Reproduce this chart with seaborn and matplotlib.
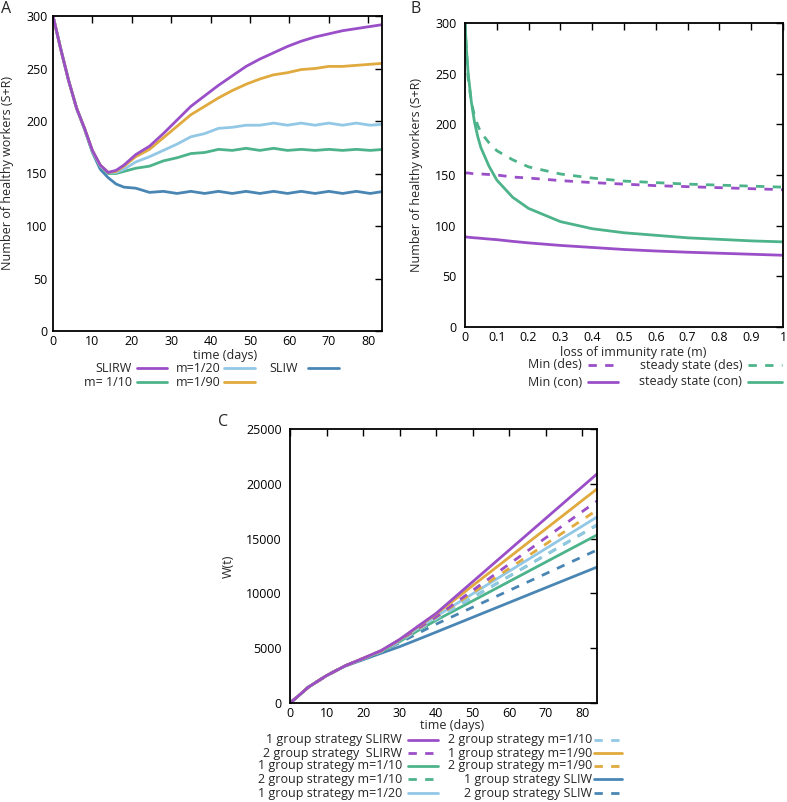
import numpy as np
import pandas as pd
import matplotlib
matplotlib.use("Agg")
import matplotlib.pyplot as plt
from matplotlib.lines import Line2D
import seaborn as sns

# ---- Panel A: healthy workers over time ----
days_a = [0, 2, 4, 6, 8, 10, 12, 14, 16, 18, 21, 24.5, 28, 31.5, 35, 38.5, 42,
          45.5, 49, 52.5, 56, 59.5, 63, 66.5, 70, 73.5, 77, 80.5, 84]
slirw_a = [300, 268, 238, 212, 193, 172, 158, 151, 153, 158, 168, 176, 188, 201, 214,
           224, 234, 243, 252, 259, 265, 271, 276, 280, 283, 286, 288, 290, 292]
m90_a = [300, 268, 238, 212, 193, 172, 158, 151, 152, 157, 166, 173, 184, 195, 206,
         214, 222, 229, 235, 240, 244, 246, 249, 250, 252, 252, 253, 254, 255]
m20_a = [300, 268, 238, 212, 193, 171, 157, 151, 151, 154, 161, 166, 172, 178, 185,
         188, 193, 194, 196, 196, 198, 196, 198, 196, 198, 196, 198, 196, 197]
m10_a = [300, 268, 238, 212, 193, 171, 157, 150, 150, 152, 155, 157, 162, 165, 169,
         170, 173, 172, 174, 172, 174, 172, 173, 172, 173, 172, 173, 172, 173]
sliw_a = [300, 268, 238, 212, 192, 170, 154, 146, 140, 137, 136, 132, 133, 131, 133,
          131, 133, 131, 133, 131, 133, 131, 133, 131, 133, 131, 133, 131, 133]

# ---- Panel B: min / steady state vs loss of immunity rate ----
m_rate = [0, 0.005, 0.01, 0.02, 0.03, 0.04, 0.05, 0.075, 0.1, 0.15, 0.2, 0.3, 0.4,
          0.5, 0.6, 0.7, 0.8, 0.9, 1.0]
min_des = [152, 152, 152, 151.5, 151, 151, 151, 150.5, 150, 148, 147, 144.5, 142.5,
           141, 139.5, 138.5, 137.5, 136.5, 135.5]
min_con = [89, 88.8, 88.6, 88.3, 88, 87.8, 87.5, 86.8, 86.2, 84.5, 83, 80.5, 78.5,
           76.5, 75, 73.8, 72.8, 71.8, 70.8]
ss_des = [300, 270, 245, 222, 208, 199, 192, 182, 174, 165, 158, 151, 147, 144,
          142.5, 141, 140, 139, 138]
ss_con = [300, 272, 250, 222, 202, 188, 177, 159, 145, 128, 117, 104, 97, 93, 90.5,
          88, 86.5, 85, 84]

# ---- Panel C: W(t) ----
days_c = [0, 2, 5, 10, 15, 20, 25, 30, 35, 40, 50, 60, 70, 84]
w_1g_slirw = [0, 560, 1440, 2500, 3380, 4080, 4800, 5800, 7000, 8180, 11070, 13960, 16850, 20900]
w_2g_slirw = [0, 560, 1440, 2500, 3380, 4060, 4760, 5760, 6800, 7880, 10280, 12680, 15080, 18430]
w_1g_m10 = [0, 560, 1440, 2500, 3380, 4040, 4700, 5600, 6600, 7550, 9320, 11090, 12860, 15330]
w_2g_m10 = [0, 560, 1440, 2500, 3380, 4040, 4700, 5600, 6650, 7690, 9630, 11570, 13510, 16240]
w_1g_m20 = [0, 560, 1440, 2500, 3380, 4050, 4750, 5750, 6800, 7910, 9970, 12030, 14090, 16970]
w_2g_m10b = [0, 560, 1440, 2500, 3380, 4040, 4700, 5600, 6650, 7690, 9630, 11570, 13510, 16240]
w_1g_m90 = [0, 560, 1440, 2500, 3380, 4080, 4780, 5780, 6950, 8120, 10710, 13300, 15890, 19530]
w_2g_m90 = [0, 560, 1440, 2500, 3380, 4060, 4760, 5750, 6750, 7840, 10060, 12280, 14500, 17600]
w_1g_sliw = [0, 560, 1440, 2500, 3350, 3950, 4550, 5140, 5800, 6470, 7820, 9170, 10520, 12400]
w_2g_sliw = [0, 560, 1440, 2500, 3380, 4020, 4700, 5500, 6350, 7200, 8740, 10270, 11800, 13960]

PURPLE = "#9a4fc8"
GREEN = "#4db38a"
LBLUE = "#92c8e6"
ORANGE = "#e0aa3e"
BLUE = "#4a86b4"

sns.set_style("white")
plt.rcParams["font.family"] = ["Open Sans", "DejaVu Sans"]
FS = 9
LW = 2.0
DASH = (0, (3, 3))

W, H = 787, 802
fig = plt.figure(figsize=(W / 100, H / 100), dpi=100)


def box(l, t, r, b):
    return [l / W, 1 - b / H, (r - l) / W, (b - t) / H]


def style_ax(ax, pad=4):
    for s in ax.spines.values():
        s.set_color("black")
        s.set_linewidth(1.3)
    ax.tick_params(direction="in", top=True, right=True, length=5, width=1,
                   labelsize=FS, pad=pad, colors="black")
    ax.tick_params(axis="x", pad=3)
    ax.grid(False)


def leg(tx, y, x0, x1, label, color, ls="-"):
    fig.text(tx / W, 1 - y / H, label, ha="right", va="center", fontsize=FS)
    fig.add_artist(Line2D([x0 / W, x1 / W], [1 - y / H, 1 - y / H],
                          transform=fig.transFigure, color=color, lw=LW, ls=ls))


def line(ax, x, y, color, ls="-"):
    sns.lineplot(x=x, y=y, ax=ax, color=color, lw=LW, linestyle=ls, sort=False)


# Panel A
axA = fig.add_axes(box(53, 16, 382, 331))
for ys, c in [(sliw_a, BLUE), (m10_a, GREEN), (m20_a, LBLUE), (m90_a, ORANGE), (slirw_a, PURPLE)]:
    line(axA, days_a, ys, c)
axA.set_xlim(0, 83.5)
axA.set_ylim(0, 300)
axA.set_xticks(range(0, 81, 10))
axA.set_yticks(range(0, 301, 50))
style_ax(axA)
axA.set_xlabel("time (days)", fontsize=FS)
axA.xaxis.set_label_coords(0.523, -0.056)
axA.set_ylabel("Number of healthy workers (S+R)", fontsize=FS)
axA.yaxis.set_label_coords(-0.118, 0.5)

leg(132, 368, 137, 167, "SLIRW", PURPLE)
leg(221, 368, 224, 255, "m=1/20", LBLUE)
leg(298, 368, 308, 339, "SLIW", BLUE)
leg(132, 382, 137, 167, "m= 1/10", GREEN)
leg(221, 382, 224, 255, "m=1/90", ORANGE)

# Panel B
axB = fig.add_axes(box(465, 23, 783, 327))
line(axB, m_rate, min_con, PURPLE)
line(axB, m_rate, min_des, PURPLE, DASH)
line(axB, m_rate, ss_con, GREEN)
line(axB, m_rate, ss_des, GREEN, DASH)
axB.set_xlim(0, 1)
axB.set_ylim(0, 300)
bt = np.round(np.arange(0, 1.01, 0.1), 1)
axB.set_xticks(bt)
axB.set_xticklabels(["0"] + [f"{v:.1f}" for v in bt[1:-1]] + ["1"])
axB.set_yticks(range(0, 301, 50))
style_ax(axB, pad=6)
axB.set_xlabel("loss of immunity rate (m)", fontsize=FS)
axB.xaxis.set_label_coords(0.528, -0.062)
axB.set_ylabel("Number of healthy workers (S+R)", fontsize=FS)
axB.yaxis.set_label_coords(-0.132, 0.5)

leg(582, 365, 588, 618, "Min (des)", PURPLE, DASH)
leg(742, 365, 748, 782, "steady state (des)", GREEN, DASH)
leg(582, 382, 588, 618, "Min (con)", PURPLE)
leg(742, 382, 748, 782, "steady state (con)", GREEN)

# Panel C
axC = fig.add_axes(box(290, 429, 597, 703))
series_c = [
    (w_1g_sliw, BLUE, "-"), (w_2g_sliw, BLUE, DASH),
    (w_1g_m10, GREEN, "-"), (w_2g_m10, GREEN, DASH),
    (w_2g_m10b, LBLUE, DASH), (w_1g_m20, LBLUE, "-"),
    (w_2g_m90, ORANGE, DASH), (w_2g_slirw, PURPLE, DASH),
    (w_1g_m90, ORANGE, "-"), (w_1g_slirw, PURPLE, "-"),
]
for ys, c, ls in series_c:
    line(axC, days_c, ys, c, ls)
axC.set_xlim(0, 84)
axC.set_ylim(0, 25000)
axC.set_xticks(range(0, 81, 10))
axC.set_yticks(range(0, 25001, 5000))
style_ax(axC, pad=6)
axC.set_xlabel("time (days)", fontsize=FS)
axC.xaxis.set_label_coords(0.528, -0.058)
axC.set_ylabel("W(t)", fontsize=FS)
axC.yaxis.set_label_coords(-0.18, 0.5)

col1 = [("1 group strategy SLIRW", PURPLE, "-"), ("2 group strategy  SLIRW", PURPLE, DASH),
        ("1 group strategy m=1/10", GREEN, "-"), ("2 group strategy m=1/10", GREEN, DASH),
        ("1 group strategy m=1/20", LBLUE, "-")]
col2 = [("2 group strategy m=1/10", LBLUE, DASH), ("1 group strategy m=1/90", ORANGE, "-"),
        ("2 group strategy m=1/90", ORANGE, DASH), ("1 group strategy SLIW", BLUE, "-"),
        ("2 group strategy SLIW", BLUE, DASH)]
rows_c = [740, 753, 766, 779, 793]
for (lab, c, ls), y in zip(col1, rows_c):
    leg(402, y, 408, 438, lab, c, ls)
for (lab, c, ls), y in zip(col2, rows_c):
    leg(592, y, 594, 622, lab, c, ls)

# panel letters
fig.text(1 / W, 1 - 1 / H, "A", ha="left", va="top", fontsize=11.5)
fig.text(411 / W, 1 - 1 / H, "B", ha="left", va="top", fontsize=11.5)
fig.text(218 / W, 1 - 414 / H, "C", ha="left", va="top", fontsize=11.5)

fig.savefig("out.png", dpi=100)
